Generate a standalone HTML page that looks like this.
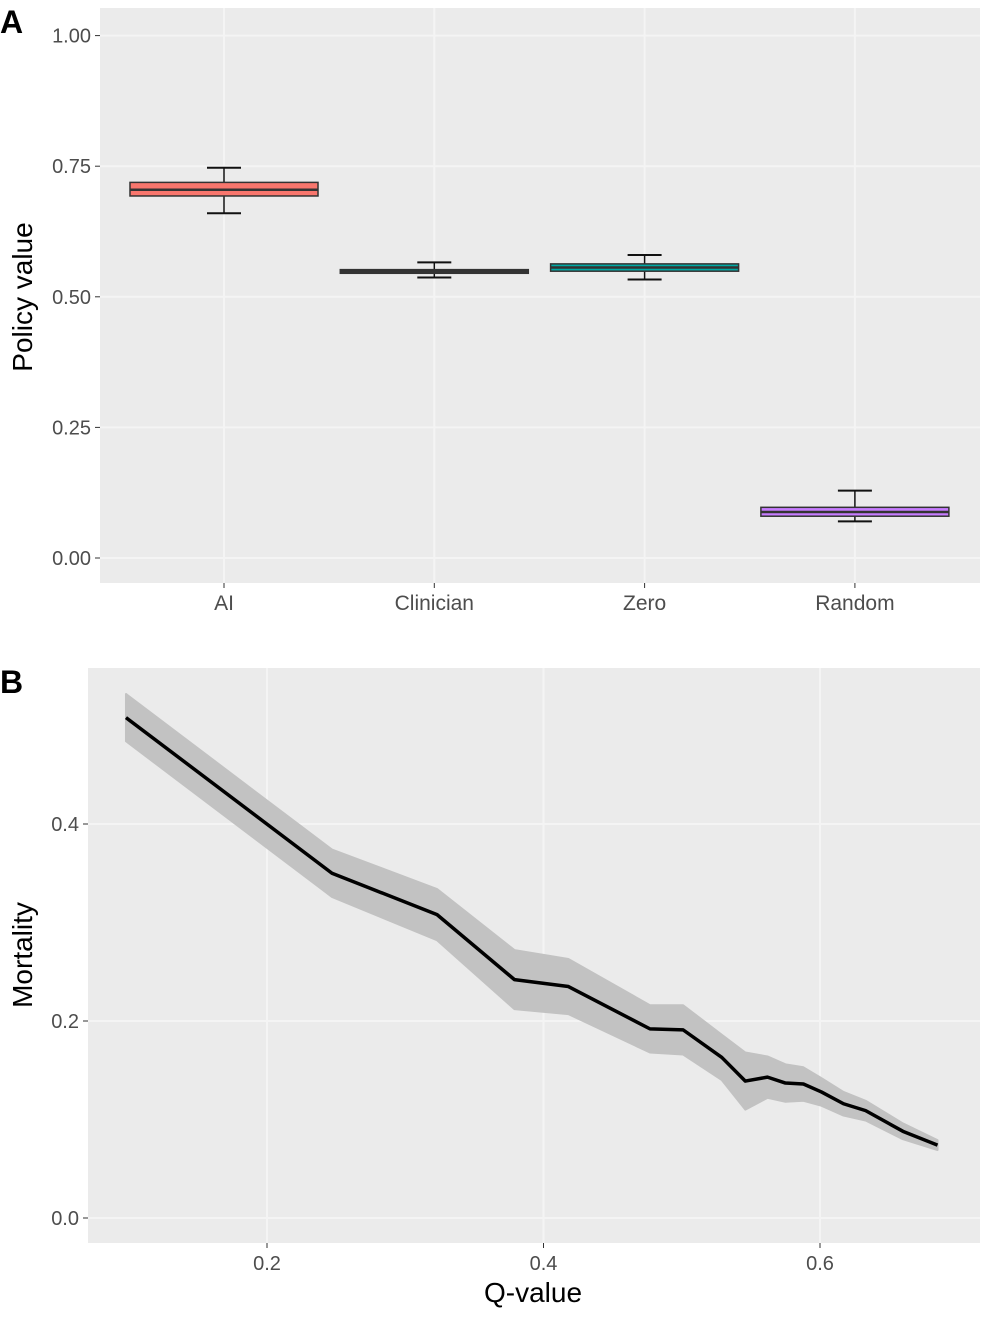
<!DOCTYPE html>
<html><head><meta charset="utf-8"><style>
body{margin:0;background:#fff;}
svg{display:block;font-family:"Liberation Sans",sans-serif;}
</style></head><body>
<svg id="c" width="991" height="1318"></svg>
<script>
const categories=["AI","Clinician","Zero","Random"];
const boxQ1=[0.693,0.545,0.549,0.080];
const boxMed=[0.705,0.548,0.556,0.088];
const boxQ3=[0.719,0.552,0.563,0.097];
const whiskLo=[0.660,0.537,0.533,0.070];
const whiskHi=[0.747,0.566,0.580,0.129];
const boxColors=["#F8766D","#333333","#00A9A4","#C77CFF"];
const yTicksA=[0,0.25,0.5,0.75,1.0];
const yTickLabelsA=["0.00","0.25","0.50","0.75","1.00"];
const qValues=[0.098,0.247,0.323,0.379,0.418,0.477,0.501,0.529,0.546,0.562,0.575,0.588,0.601,0.617,0.633,0.660,0.685];
const mortality=[0.508,0.350,0.308,0.242,0.235,0.192,0.191,0.163,0.139,0.143,0.137,0.136,0.128,0.116,0.109,0.088,0.074];
const bandLo=[0.484,0.326,0.282,0.212,0.207,0.168,0.166,0.140,0.110,0.122,0.118,0.119,0.114,0.104,0.099,0.080,0.069];
const bandHi=[0.532,0.374,0.334,0.272,0.263,0.216,0.216,0.186,0.168,0.164,0.156,0.153,0.142,0.128,0.119,0.096,0.079];
const xTicksB=[0.2,0.4,0.6];
const xTickLabelsB=["0.2","0.4","0.6"];
const yTicksB=[0,0.2,0.4];
const yTickLabelsB=["0.0","0.2","0.4"];

const NS="http://www.w3.org/2000/svg";
const svg=document.getElementById('c');
function mk(tag,attrs,parent,name,text){const e=document.createElementNS(NS,tag);for(const k in attrs)e.setAttribute(k,attrs[k]);


if(text!==undefined)e.textContent=text;(parent||svg).appendChild(e);return e;}
const GRID='#F4F4F4';
// Panel A
const A={l:100,r:980,t:8,b:583};
const yA=v=>558-v*522.4;
const xA=i=>224+i*210.3;
const gA=mk('g',{},svg,'panel-a');
mk('rect',{x:A.l,y:A.t,width:A.r-A.l,height:A.b-A.t,fill:'#EBEBEB'},gA,'panel-a-background');
yTicksA.forEach((v,i)=>{mk('line',{x1:A.l,x2:A.r,y1:yA(v),y2:yA(v),stroke:GRID,'stroke-width':2},gA,'y-gridline');
mk('line',{x1:A.l-5,x2:A.l,y1:yA(v),y2:yA(v),stroke:'#333','stroke-width':1},gA,'y-tick');
mk('text',{x:A.l-9,y:yA(v)+7,'text-anchor':'end','font-size':20,fill:'#4D4D4D'},gA,'y-tick-label',yTickLabelsA[i]);});
categories.forEach((c,i)=>{const x=xA(i);mk('line',{x1:x,x2:x,y1:A.t,y2:A.b,stroke:GRID,'stroke-width':2},gA,'x-gridline');
mk('line',{x1:x,x2:x,y1:A.b,y2:A.b+5,stroke:'#333'},gA,'x-tick');
mk('text',{x:x,y:A.b+27,'text-anchor':'middle','font-size':21,fill:'#4D4D4D'},gA,'x-tick-label',c);});
categories.forEach((c,i)=>{const x=xA(i),hw=94;const g=mk('g',{},gA,'box-'+c.toLowerCase());
mk('line',{x1:x,x2:x,y1:yA(whiskHi[i]),y2:yA(whiskLo[i]),stroke:'#111','stroke-width':1.5},g,'whisker');
[whiskHi[i],whiskLo[i]].forEach(v=>mk('line',{x1:x-17,x2:x+17,y1:yA(v),y2:yA(v),stroke:'#111','stroke-width':2},g,'whisker-cap'));
mk('rect',{x:x-hw,y:yA(boxQ3[i]),width:2*hw,height:Math.max(yA(boxQ1[i])-yA(boxQ3[i]),1),fill:boxColors[i],stroke:'#333','stroke-width':1.5},g,'box-body');
mk('line',{x1:x-hw,x2:x+hw,y1:yA(boxMed[i]),y2:yA(boxMed[i]),stroke:'#333','stroke-width':2.5},g,'box-median');});
mk('text',{x:32,y:297,'text-anchor':'middle','font-size':28,fill:'#000',transform:'rotate(-90 32 297)'},gA,'y-axis-title','Policy value');
mk('text',{x:0,y:33,'font-size':32,'font-weight':'bold',fill:'#000'},gA,'panel-label-a','A');

// Panel B
const B={l:88,r:980,t:668,b:1243};
const xB=q=>267+(q-0.2)*1382.5;
const yB=v=>1218-v*985;
const gB=mk('g',{},svg,'panel-b');
mk('rect',{x:B.l,y:B.t,width:B.r-B.l,height:B.b-B.t,fill:'#EBEBEB'},gB,'panel-b-background');
xTicksB.forEach((q,i)=>{mk('line',{x1:xB(q),x2:xB(q),y1:B.t,y2:B.b,stroke:GRID,'stroke-width':2},gB,'x-gridline');
mk('line',{x1:xB(q),x2:xB(q),y1:B.b,y2:B.b+5,stroke:'#333'},gB,'x-tick');
mk('text',{x:xB(q),y:B.b+27,'text-anchor':'middle','font-size':20,fill:'#4D4D4D'},gB,'x-tick-label',xTickLabelsB[i]);});
yTicksB.forEach((v,i)=>{mk('line',{x1:B.l,x2:B.r,y1:yB(v),y2:yB(v),stroke:GRID,'stroke-width':2},gB,'y-gridline');
mk('line',{x1:B.l-5,x2:B.l,y1:yB(v),y2:yB(v),stroke:'#333'},gB,'y-tick');
mk('text',{x:B.l-9,y:yB(v)+7,'text-anchor':'end','font-size':20,fill:'#4D4D4D'},gB,'y-tick-label',yTickLabelsB[i]);});
let d='';qValues.forEach((q,i)=>d+=(i?'L':'M')+xB(q)+','+yB(bandHi[i]));
for(let i=qValues.length-1;i>=0;i--)d+='L'+xB(qValues[i])+','+yB(bandLo[i]);
mk('path',{d:d+'Z',fill:'#C2C2C2','stroke':'#C2C2C2','stroke-width':2,'stroke-linejoin':'round'},gB,'confidence-band');
let dl='';qValues.forEach((q,i)=>dl+=(i?'L':'M')+xB(q)+','+yB(mortality[i]));
mk('path',{d:dl,fill:'none',stroke:'#000','stroke-width':3.5,'stroke-linejoin':'round'},gB,'mortality-line');
mk('text',{x:32,y:955,'text-anchor':'middle','font-size':28,fill:'#000',transform:'rotate(-90 32 955)'},gB,'y-axis-title','Mortality');
mk('text',{x:533,y:1302,'text-anchor':'middle','font-size':28,fill:'#000'},gB,'x-axis-title','Q-value');
mk('text',{x:0,y:693,'font-size':32,'font-weight':'bold',fill:'#000'},gB,'panel-label-b','B');
</script>
</body></html>
